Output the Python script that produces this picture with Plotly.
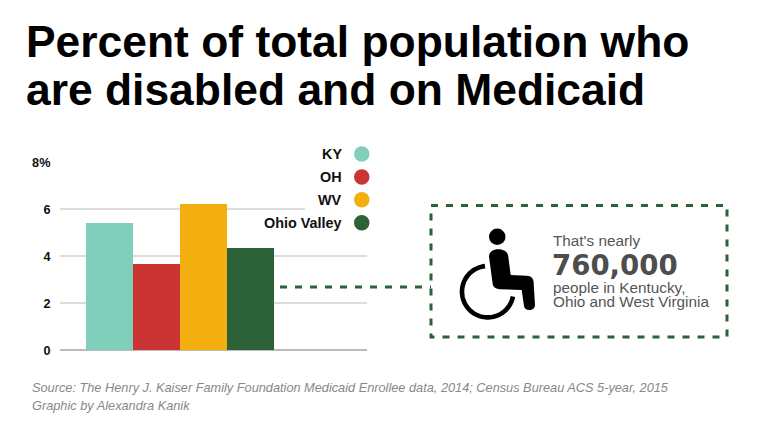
import numpy as np
import plotly.graph_objects as go

title_lines = ["Percent of total population who", "are disabled and on Medicaid"]
categories = ["KY", "OH", "WV", "Ohio Valley"]
values = [5.39, 3.64, 6.21, 4.35]
colors = ["#7fcfbb", "#cc3333", "#f3af10", "#2d6137"]
tick_vals = [0, 2, 4, 6, 8]
tick_text = ["0", "2", "4", "6", "8%"]
source_lines = [
    "Source: The Henry J. Kaiser Family Foundation Medicaid Enrollee data, 2014; Census Bureau ACS 5-year, 2015",
    "Graphic by Alexandra Kanik",
]

W, H = 768, 431
GREEN = "#2d6137"
SANS = "Liberation Sans, Arial, sans-serif"

fig = go.Figure(go.Bar(x=categories, y=values, marker=dict(color=colors, line_width=0),
                       width=1.0, showlegend=False, hoverinfo="x+y"))

shapes, annos = [], []
def px_shape(**k):
    shapes.append(dict(xref="x2", yref="y2", **k))
def text(x, y, s, size, color="#000", bold=False, italic=False, anchor="left", family=SANS):
    annos.append(dict(xref="x2", yref="y2", x=x, y=y, text=s, showarrow=False, xanchor=anchor, yanchor="middle",
                      xshift=0, align=anchor,
                      font=dict(size=size, color=color, family=family, weight=700 if bold else 400,
                                style="italic" if italic else "normal")))

# title
text(24, 41, title_lines[0], 44.4, "#000", bold=True)
text(24, 89, title_lines[1], 44.4, "#000", bold=True)

# mask gridlines behind the legend
px_shape(type="rect", x0=305, x1=372, y0=150, y1=216, fillcolor="white", line_width=0, layer="above")

# legend
legend_y = [154, 177, 199.7, 222.7]
for name, col, y in zip(categories, colors, legend_y):
    text(344, y, name, 14.4, "#111", bold=True, anchor="right")
    px_shape(type="circle", x0=354, x1=369.5, y0=y - 7.7, y1=y + 7.7, fillcolor=col, line_width=0, layer="above")

# dashed connector and box
dash = dict(color=GREEN, width=3, dash="7px,8px")
px_shape(type="line", x0=280, x1=431, y0=287, y1=287, line=dash, layer="above")
px_shape(type="rect", x0=431, x1=727, y0=205.5, y1=337, line=dash, layer="above")

# wheelchair icon
px_shape(type="circle", x0=489, x1=505.5, y0=228.5, y1=245, fillcolor="#000", line_width=0)
px_shape(type="path", fillcolor="#000", line_width=0,
         path="M489,256.7 C489,252 493,249.3 498.3,249.3 C504,249.3 508,252 508.3,256.7 L510.7,275 L526.7,275.7 "
              "C531,276 533.3,278 533.6,282 L535,305 C535,308 532.5,310 529.3,310 C526.5,310 524.3,308.5 524,306 "
              "L521.7,290 L500,289.3 C496,289 493,287 492.7,284 Z")
theta = np.radians(np.linspace(-96, -96 - 253, 70))
wx = 487.7 + 25.7 * np.cos(theta)
wy = 291.7 + 25.7 * np.sin(theta)
px_shape(type="path", line=dict(color="#000", width=4.6),
         path="M" + " L".join(f"{a:.2f},{b:.2f}" for a, b in zip(wx, wy)))

# callout text
text(551, 240.5, "That's nearly", 15.3, "#555")
text(550, 265, "760,000", 27.6, "#4d4d4d", bold=True, family="DejaVu Sans")
text(551, 287, "people in Kentucky,", 15.3, "#555")
text(551, 301.5, "Ohio and West Virginia", 15.3, "#555")

# source
text(30, 387, source_lines[0], 12.76, "#888", italic=True)
text(30, 405, source_lines[1], 12.76, "#888", italic=True)

fig.update_layout(
    width=W, height=H, autosize=False, margin=dict(l=0, r=0, t=0, b=0),
    paper_bgcolor="white", plot_bgcolor="rgba(0,0,0,0)", bargap=0,
    xaxis=dict(domain=[60 / W, 367 / W], range=[-1.053, 5.479], showticklabels=False, showgrid=False,
               zeroline=False, ticks="", fixedrange=True, automargin=False),
    yaxis=dict(domain=[(H - 350.3) / H, (H - 162.3) / H], range=[0, 8], tickvals=tick_vals, ticktext=tick_text,
               tickfont=dict(size=12.7, color="#111", family=SANS, weight=700),
               ticks="outside", ticklen=6, tickcolor="rgba(0,0,0,0)", automargin=False,
               showgrid=True, gridcolor="#dddddd", gridwidth=1.5,
               zeroline=True, zerolinecolor="#bbbbbb", zerolinewidth=1.5, showline=False),
    xaxis2=dict(domain=[0, 1], range=[0, W], anchor="y2", visible=False, automargin=False),
    yaxis2=dict(domain=[0, 1], range=[H, 0], anchor="x2", visible=False, automargin=False),
    shapes=shapes, annotations=annos,
)
fig.write_html("out.html", config=dict(displayModeBar=False), post_script="document.body.style.margin='0';")
